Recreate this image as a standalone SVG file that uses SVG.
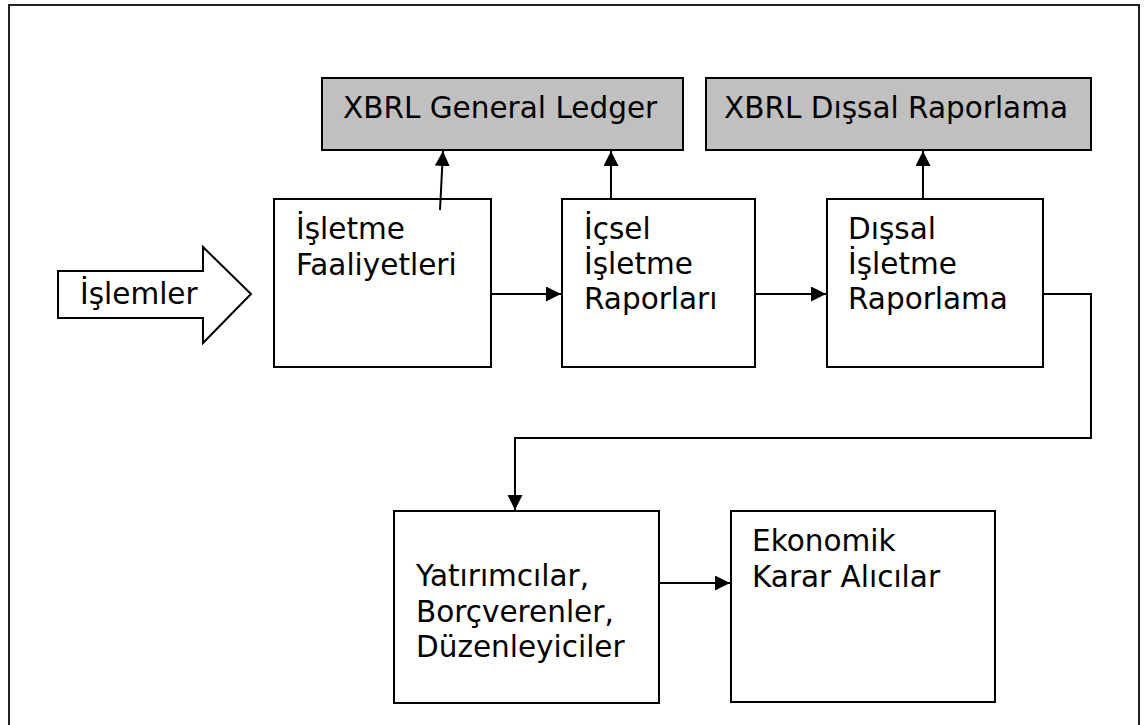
<svg xmlns="http://www.w3.org/2000/svg" width="1148" height="725" viewBox="0 0 1148 725">
<style>
.box{fill:#fff;stroke:#000;stroke-width:2}
.gray{fill:#c0c0c0;stroke:#000;stroke-width:2}
.t{font-family:"DejaVu Sans","Verdana",sans-serif;font-size:29.5px;fill:#000}
.c{fill:none;stroke:#000;stroke-width:2}
</style>
<defs>
<marker id="ah" markerUnits="userSpaceOnUse" markerWidth="16" markerHeight="16" refX="15" refY="7.5" orient="auto">
<path d="M0,0 L15,7.5 L0,15 z" fill="#000"/>
</marker>
</defs>
<rect x="0" y="0" width="1148" height="725" fill="#fff"/>
<rect x="9" y="5" width="1130" height="740" fill="none" stroke="#222" stroke-width="2"/>
<g id="gl">
<rect class="gray" x="322" y="78" width="361" height="72"/>
<text class="t" x="343" y="118">XBRL General Ledger</text>
</g>
<g id="dissal-rap">
<rect class="gray" x="706" y="78" width="385" height="72"/>
<text class="t" x="724" y="118">XBRL Dışsal Raporlama</text>
</g>
<g id="islemler">
<path class="box" d="M58,271 L203,271 L203,247 L251,294 L203,343 L203,318 L58,318 Z"/>
<text class="t" x="80" y="304">İşlemler</text>
</g>
<g id="faaliyet">
<rect class="box" x="274" y="199" width="217" height="168"/>
<text class="t" x="296" y="239">İşletme</text>
<text class="t" x="296" y="275">Faaliyetleri</text>
</g>
<g id="icsel">
<rect class="box" x="562" y="199" width="193" height="168"/>
<text class="t" x="584" y="239">İçsel</text>
<text class="t" x="584" y="274">İşletme</text>
<text class="t" x="584" y="309">Raporları</text>
</g>
<g id="dissal">
<rect class="box" x="827" y="199" width="216" height="168"/>
<text class="t" x="848" y="239">Dışsal</text>
<text class="t" x="848" y="274">İşletme</text>
<text class="t" x="848" y="309">Raporlama</text>
</g>
<g id="yatirimci">
<rect class="box" x="394" y="511" width="265" height="192"/>
<text class="t" x="416" y="586">Yatırımcılar,</text>
<text class="t" x="416" y="622">Borçverenler,</text>
<text class="t" x="416" y="657">Düzenleyiciler</text>
</g>
<g id="karar">
<rect class="box" x="731" y="511" width="264" height="191"/>
<text class="t" x="752" y="551">Ekonomik</text>
<text class="t" x="752" y="587">Karar Alıcılar</text>
</g>
<g id="connectors">
<line class="c" x1="440" y1="210" x2="443" y2="151" marker-end="url(#ah)"/>
<line class="c" x1="611" y1="199" x2="611" y2="151" marker-end="url(#ah)"/>
<line class="c" x1="923" y1="199" x2="923" y2="151" marker-end="url(#ah)"/>
<line class="c" x1="491" y1="294" x2="561" y2="294" marker-end="url(#ah)"/>
<line class="c" x1="755" y1="294" x2="826" y2="294" marker-end="url(#ah)"/>
<polyline class="c" points="1043,294 1091,294 1091,438 515,438 515,510" marker-end="url(#ah)"/>
<line class="c" x1="659" y1="583" x2="730" y2="583" marker-end="url(#ah)"/>
</g>
</svg>
